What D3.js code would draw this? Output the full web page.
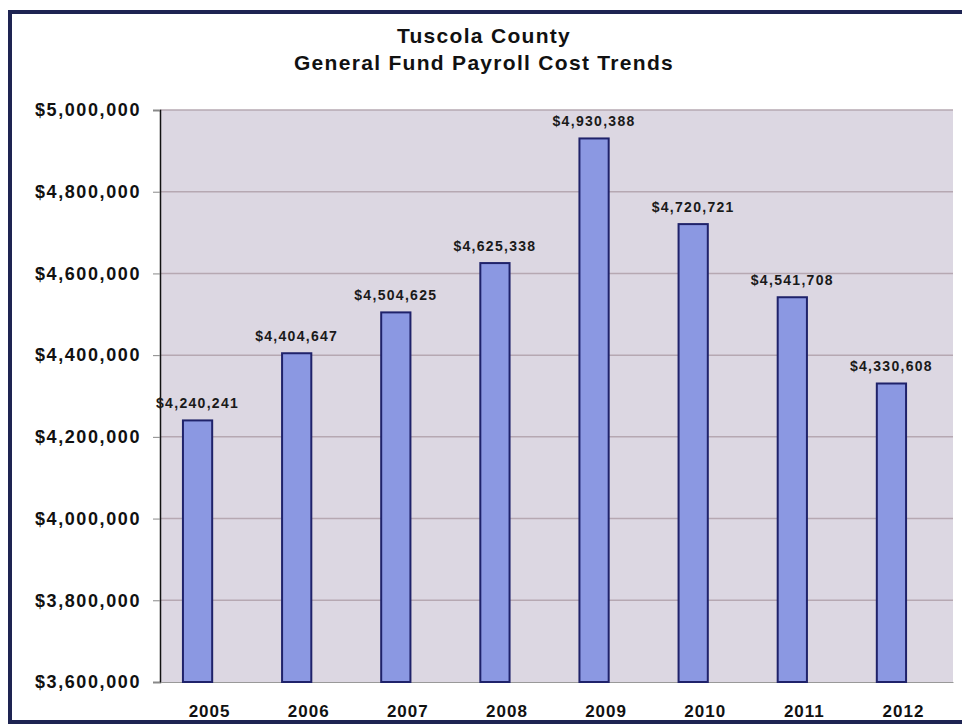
<!DOCTYPE html>
<html>
<head>
<meta charset="utf-8">
<script src="https://cdn.jsdelivr.net/npm/d3@7/dist/d3.min.js"></script>
<style>
  html, body { margin: 0; padding: 0; background: #ffffff; }
  svg { display: block; }
</style>
</head>
<body>
<svg id="chart" width="962" height="725"></svg>
<script>
const years = ["2005", "2006", "2007", "2008", "2009", "2010", "2011", "2012"];
const payroll = [4240241, 4404647, 4504625, 4625338, 4930388, 4720721, 4541708, 4330608];
const yTicks = [3600000, 3800000, 4000000, 4200000, 4400000, 4600000, 4800000, 5000000];
const titleLines = ["Tuscola County", "General Fund Payroll Cost Trends"];

const svg = d3.select("#chart");
const plot = { left: 160, right: 953, top: 110, bottom: 682 };
const FONT = "Liberation Sans, Arial, sans-serif";

// outer frame
svg.append("rect")
  .attr("x", 10).attr("y", 12)
  .attr("width", 965).attr("height", 710)
  .attr("fill", "#ffffff")
  .attr("stroke", "#1e2452").attr("stroke-width", 4);

// title
svg.append("g").selectAll("text").data(titleLines).join("text")
  .attr("x", 484).attr("y", (d, i) => 43 + i * 27)
  .attr("text-anchor", "middle")
  .attr("font-family", FONT)
  .attr("font-weight", "bold").attr("font-size", 21)
  .attr("letter-spacing", 1.3)
  .attr("fill", "#111111")
  .text(d => d);

const y = d3.scaleLinear().domain([3600000, 5000000]).range([plot.bottom, plot.top]);
const x = d3.scaleBand().domain(years).range([plot.left, plot.right]);
const xBar = d3.scaleBand().domain(years).range([plot.left - 12, plot.right - 12]).paddingInner(0.705).paddingOuter(0.3525);

// plot background
svg.append("rect")
  .attr("x", plot.left).attr("y", plot.top)
  .attr("width", plot.right - plot.left).attr("height", plot.bottom - plot.top)
  .attr("fill", "#dcd7e2");

// gridlines
svg.append("g").selectAll("line").data(yTicks.slice(1)).join("line")
  .attr("x1", plot.left).attr("x2", plot.right)
  .attr("y1", d => y(d)).attr("y2", d => y(d))
  .attr("stroke", "#b6a8b2").attr("stroke-width", 1.5);

// y axis
const yAxis = d3.axisLeft(y).tickValues(yTicks).tickSize(7).tickPadding(12)
  .tickFormat(d => "$" + d3.format(",")(d));
const gy = svg.append("g").attr("transform", `translate(${plot.left},0)`).call(yAxis);
gy.select(".domain").attr("stroke", "#111").attr("stroke-width", 1.5);
gy.selectAll(".tick line").attr("stroke", "#888").attr("stroke-width", 1);
gy.selectAll(".tick text")
  .attr("font-family", FONT)
  .attr("font-weight", "bold").attr("font-size", 18)
  .attr("fill", "#111").attr("letter-spacing", 1.6);

// x axis
const xAxis = d3.axisBottom(x).tickSize(0).tickPadding(23);
const gx = svg.append("g").attr("transform", `translate(0,${plot.bottom})`).call(xAxis);
gx.select(".domain").attr("stroke", "#999").attr("stroke-width", 1);
gx.selectAll(".tick text")
  .attr("font-family", FONT)
  .attr("font-weight", "bold").attr("font-size", 17)
  .attr("fill", "#111").attr("letter-spacing", 1);

// bars
svg.append("g").selectAll("rect").data(payroll).join("rect")
  .attr("x", (d, i) => xBar(years[i]))
  .attr("y", d => y(d))
  .attr("width", xBar.bandwidth())
  .attr("height", d => plot.bottom - y(d))
  .attr("fill", "#8b98e2")
  .attr("stroke", "#1f226a").attr("stroke-width", 2);

// value labels
svg.append("g").selectAll("text").data(payroll).join("text")
  .attr("x", (d, i) => xBar(years[i]) + xBar.bandwidth() / 2)
  .attr("y", d => y(d) - 12)
  .attr("text-anchor", "middle")
  .attr("font-family", FONT)
  .attr("font-weight", "bold").attr("font-size", 14)
  .attr("fill", "#1a1a1a").attr("letter-spacing", 1.3)
  .text(d => "$" + d3.format(",")(d));
</script>
</body>
</html>
